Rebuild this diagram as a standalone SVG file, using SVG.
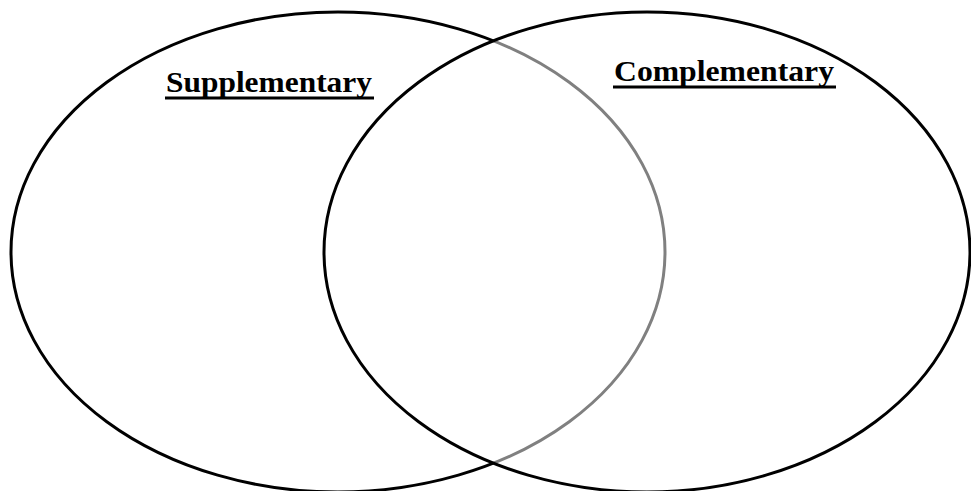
<svg xmlns="http://www.w3.org/2000/svg" width="971" height="491" viewBox="0 0 971 491">
<style>
.ell{stroke:#000;stroke-width:3}
.lbl{font-family:"Liberation Serif","Times New Roman",serif;font-weight:bold;font-size:29px;fill:#000}
.ul{stroke:#000;stroke-width:3}
</style>
<rect width="971" height="491" fill="#fff"/>
<g id="supplementary">
<ellipse class="ell" cx="338" cy="252" rx="327" ry="240" fill="#fff"/>
<text class="lbl" x="166" y="92" textLength="206" lengthAdjust="spacingAndGlyphs">Supplementary</text>
<line class="ul" x1="165" y1="98" x2="374" y2="98"/>
</g>
<g id="complementary">
<ellipse class="ell" cx="647" cy="252" rx="323" ry="240" fill="#fff" fill-opacity="0.5"/>
<text class="lbl" x="614" y="81" textLength="220" lengthAdjust="spacingAndGlyphs">Complementary</text>
<line class="ul" x1="613" y1="87" x2="836" y2="87"/>
</g>
<g id="connectors"/>
</svg>
